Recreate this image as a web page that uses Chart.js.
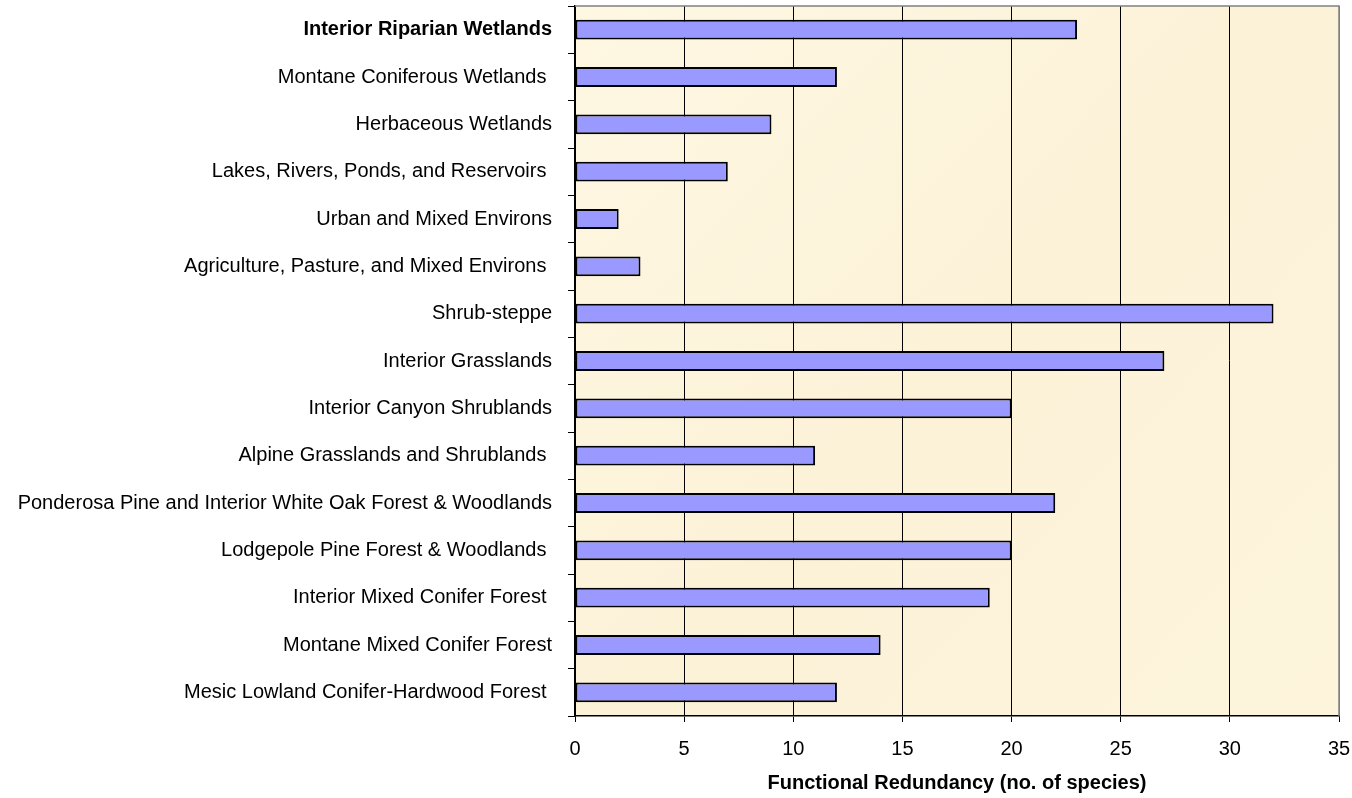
<!DOCTYPE html>
<html lang="en">
  <head>
    <meta charset="UTF-8" />
    <title>Functional Redundancy</title>
    <script src="https://cdn.jsdelivr.net/npm/chart.js"></script>
    <style>
      html, body { margin: 0; padding: 0; background: #fff; }
      #wrap { width: 1352px; height: 798px; }
    </style>
  </head>
  <body>
    <div id="wrap"><canvas id="redundancyChart" width="1352" height="798"></canvas></div>

    <script>
      // habitat types, top to bottom
      const habitats = [
        "Interior Riparian Wetlands",
        "Montane Coniferous Wetlands ",
        "Herbaceous Wetlands",
        "Lakes, Rivers, Ponds, and Reservoirs ",
        "Urban and Mixed Environs",
        "Agriculture, Pasture, and Mixed Environs ",
        "Shrub-steppe",
        "Interior Grasslands",
        "Interior Canyon Shrublands",
        "Alpine Grasslands and Shrublands ",
        "Ponderosa Pine and Interior White Oak Forest & Woodlands",
        "Lodgepole Pine Forest & Woodlands ",
        "Interior Mixed Conifer Forest ",
        "Montane Mixed Conifer Forest",
        "Mesic Lowland Conifer-Hardwood Forest ",
      ];

      // no. of species per habitat
      const speciesCount = [23, 12, 9, 7, 2, 3, 32, 27, 20, 11, 22, 20, 19, 14, 12];

      const xMin = 0;
      const xMax = 35;
      const xStep = 5;

      const fontFamily = "Arial, 'Liberation Sans', sans-serif";

      // cream plot background + grey frame on top/right
      const plotFrame = {
        id: "plotFrame",
        beforeDraw(chart) {
          const { ctx, chartArea: a } = chart;
          ctx.save();
          const g = ctx.createLinearGradient(a.left, a.top, a.right, a.bottom);
          g.addColorStop(0, "#fef7e2");
          g.addColorStop(0.5, "#fcf2d8");
          g.addColorStop(1, "#fdf4dc");
          ctx.fillStyle = g;
          ctx.fillRect(a.left, a.top, a.right - a.left, a.bottom - a.top);
          ctx.restore();
        },
        afterDraw(chart) {
          const { ctx, chartArea: a } = chart;
          ctx.save();
          ctx.strokeStyle = "#808080";
          ctx.lineWidth = 1.5;
          ctx.beginPath();
          ctx.moveTo(a.left, a.top);
          ctx.lineTo(a.right, a.top);
          ctx.lineTo(a.right, a.bottom);
          ctx.stroke();
          ctx.restore();
        },
      };

      const ctx = document.getElementById("redundancyChart").getContext("2d");

      const chart = new Chart(ctx, {
        type: "bar",
        data: {
          labels: habitats,
          datasets: [
            {
              label: "Functional Redundancy",
              data: speciesCount,
              backgroundColor: "#9999ff",
              borderColor: "#000000",
              borderWidth: 2,
              borderSkipped: false,
              categoryPercentage: 1,
              barPercentage: 0.42,
            },
          ],
        },
        options: {
          indexAxis: "y",
          responsive: false,
          animation: false,
          layout: { padding: { top: 6, right: 13, left: 0, bottom: 0 } },
          plugins: {
            legend: { display: false },
            tooltip: { enabled: false },
          },
          scales: {
            x: {
              min: xMin,
              max: xMax,
              ticks: {
                stepSize: xStep,
                color: "#000",
                padding: 15,
                font: { family: fontFamily, size: 20 },
              },
              grid: {
                color: (c) => (c.tick && c.tick.value === xMax ? "#808080" : "#000"),
                tickColor: "#000",
                lineWidth: 1,
                tickLength: 6,
              },
              border: { color: "#000", width: 1.5 },
              title: {
                display: true,
                text: "Functional Redundancy (no. of species)",
                color: "#000",
                padding: { top: 8, bottom: 3 },
                font: { family: fontFamily, size: 20, weight: "bold" },
              },
              afterFit(scale) {
                scale.height = 82;
                scale.paddingLeft = 0;
                scale.paddingRight = 0;
              },
            },
            y: {
              ticks: {
                color: "#000",
                padding: 16,
                autoSkip: false,
                font: (c) => ({
                  family: fontFamily,
                  size: 20,
                  weight: c.index === 0 ? "bold" : "normal",
                }),
              },
              grid: {
                drawOnChartArea: false,
                color: "#000",
                tickLength: 7,
                offset: true,
              },
              border: { color: "#000", width: 1.5 },
              afterFit(scale) {
                scale.width = 575;
                scale.paddingTop = 0;
                scale.paddingBottom = 0;
              },
            },
          },
        },
        plugins: [plotFrame],
      });
    </script>
  </body>
</html>
